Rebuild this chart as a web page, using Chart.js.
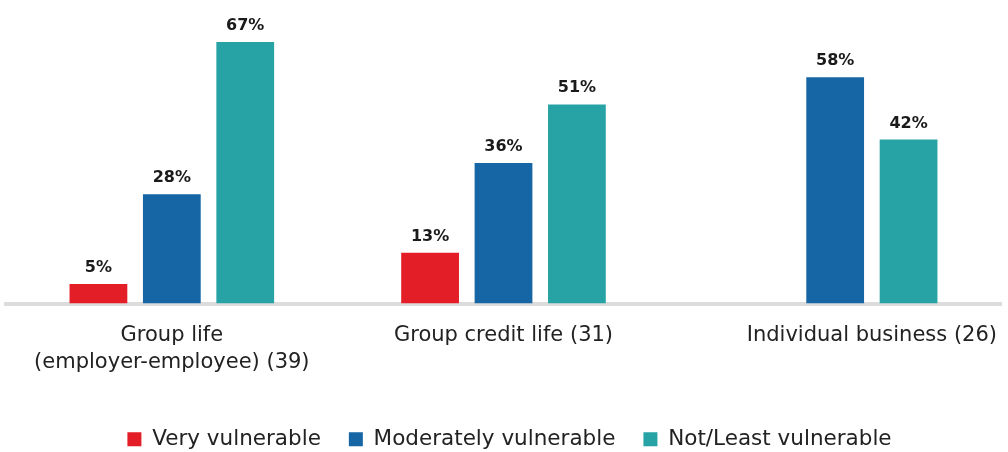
<!DOCTYPE html>
<html>
<head>
<meta charset="utf-8">
<script src="https://cdn.jsdelivr.net/npm/chart.js@4"></script>
<style>
  html, body { margin: 0; padding: 0; background: #fff; }
  #wrap { width: 1008px; height: 452px; }
</style>
</head>
<body>
<div id="wrap"><canvas id="vulnChart"></canvas></div>
<script>
const categories = [
  ["Group life", "(employer-employee) (39)"],
  ["Group credit life (31)"],
  ["Individual business (26)"],
];
const veryVulnerable = [5, 13, null];
const moderatelyVulnerable = [28, 36, 58];
const notLeastVulnerable = [67, 51, 42];

const FONT = "'DejaVu Sans', sans-serif";

// percentage above each bar
const valueLabels = {
  id: "valueLabels",
  afterDatasetsDraw(chart) {
    const ctx = chart.ctx;
    ctx.save();
    ctx.font = "bold 16px " + FONT;
    ctx.fillStyle = "#1a1a1a";
    ctx.textAlign = "center";
    ctx.textBaseline = "alphabetic";
    chart.data.datasets.forEach((ds, i) => {
      chart.getDatasetMeta(i).data.forEach((bar, j) => {
        if (ds.data[j] == null) return;
        ctx.fillText(ds.data[j] + "%", bar.x, bar.y - 12);
      });
    });
    ctx.restore();
  },
};

// category names, centred under whichever bars the group actually has
const groupLabels = {
  id: "groupLabels",
  afterDraw(chart) {
    const ctx = chart.ctx;
    const bottom = chart.chartArea.bottom;
    ctx.save();
    ctx.font = "21px " + FONT;
    ctx.fillStyle = "#222";
    ctx.textAlign = "center";
    ctx.textBaseline = "alphabetic";
    categories.forEach((lines, j) => {
      let left = Infinity, right = -Infinity;
      chart.data.datasets.forEach((ds, i) => {
        if (ds.data[j] == null) return;
        const bar = chart.getDatasetMeta(i).data[j];
        left = Math.min(left, bar.x - bar.width / 2);
        right = Math.max(right, bar.x + bar.width / 2);
      });
      const cx = (left + right) / 2;
      lines.forEach((line, k) => {
        ctx.fillText(line, cx, bottom + 37 + k * 27);
      });
    });
    ctx.restore();
  },
};

// nudge the legend row a little to the right
const legendShift = {
  id: "legendShift",
  afterLayout(chart) {
    chart.legend.left += 6;
    chart.legend.right += 6;
  },
};

const ctx = document.getElementById("vulnChart").getContext("2d");
const chart = new Chart(ctx, {
  type: "bar",
  data: {
    labels: categories,
    datasets: [
      {
        label: "Very vulnerable",
        data: veryVulnerable,
        backgroundColor: "#e31e26",
      },
      {
        label: "Moderately vulnerable",
        data: moderatelyVulnerable,
        backgroundColor: "#1666a5",
      },
      {
        label: "Not/Least vulnerable",
        data: notLeastVulnerable,
        backgroundColor: "#27a3a5",
      },
    ],
  },
  options: {
    responsive: true,
    maintainAspectRatio: false,
    animation: false,
    categoryPercentage: 0.664,
    barPercentage: 0.787,
    layout: {
      padding: { top: 3, left: 6, right: 7, bottom: -8 },
    },
    plugins: {
      tooltip: { enabled: false },
      legend: {
        position: "bottom",
        labels: {
          boxWidth: 14,
          boxHeight: 14,
          padding: 28,
          color: "#222",
          font: { family: FONT, size: 21.5 },
        },
      },
    },
    scales: {
      x: {
        grid: { display: false },
        ticks: { display: false },
        border: { color: "#dcdcdc", width: 4 },
        afterFit: (axis) => {
          axis.height = 97;
        },
      },
      y: {
        display: false,
        min: 0,
        max: 77,
      },
    },
  },
  plugins: [valueLabels, groupLabels, legendShift],
});
</script>
</body>
</html>
